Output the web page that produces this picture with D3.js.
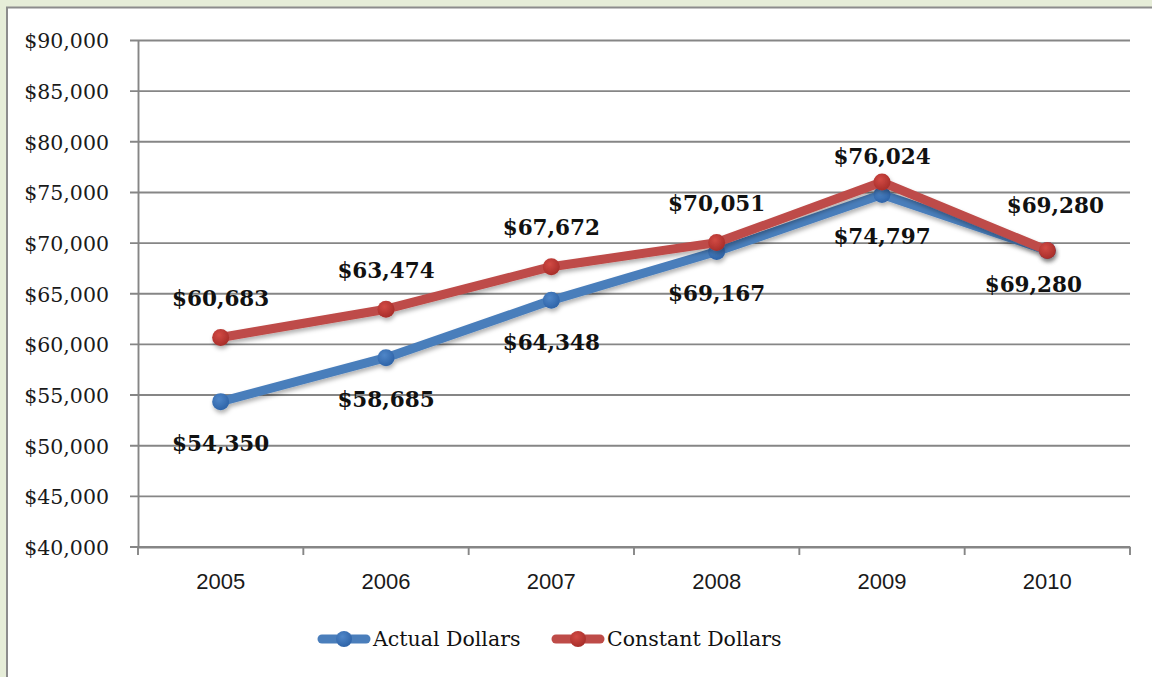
<!DOCTYPE html>
<html><head><meta charset="utf-8">
<script src="https://cdn.jsdelivr.net/npm/d3@7"></script>
<style>
html,body{margin:0;padding:0;background:#e6edd8;}
svg{display:block;}
</style></head>
<body>
<svg id="chart" width="1152" height="677"></svg>
<script>
const years = ["2005","2006","2007","2008","2009","2010"];
const actualDollars = [54350, 58685, 64348, 69167, 74797, 69280];
const constantDollars = [60683, 63474, 67672, 70051, 76024, 69280];
const yTicks = [40000,45000,50000,55000,60000,65000,70000,75000,80000,85000,90000];
const seriesNames = ["Actual Dollars","Constant Dollars"];

// label nudges (layout only)
const actualNudge = [[0,0],[0,0],[0,0],[0,0],[0,0],[-14,-8]];
const constantNudge = [[0,0],[0,0],[0,0],[0,0],[0,13],[8,-6]];

(function(){
const svg = d3.select("#chart");
svg.append("rect").attr("x",0).attr("y",0).attr("width",1152).attr("height",677).attr("fill","#e6edd8");
svg.append("rect").attr("x",7).attr("y",7.5).attr("width",1160).attr("height",690)
  .attr("fill","#ffffff").attr("stroke","#8c8c8c").attr("stroke-width",2);

const defs = svg.append("defs");
const f = defs.append("filter").attr("id","sh").attr("x","-10%").attr("y","-20%").attr("width","120%").attr("height","160%");
f.append("feDropShadow").attr("dx",1).attr("dy",3).attr("stdDeviation",2).attr("flood-color","#000").attr("flood-opacity",0.3);
function grad(id, c1, c2){
  const g = defs.append("radialGradient").attr("id",id).attr("cx","40%").attr("cy","35%").attr("r","65%");
  g.append("stop").attr("offset","0%").attr("stop-color",c1);
  g.append("stop").attr("offset","100%").attr("stop-color",c2);
}
grad("gb","#4f86c8","#2f64a8");
grad("gr","#d24a44","#a82e2a");

const pLeft = 138, pRight = 1130, pTop = 40.5, pBottom = 547;
const x = d3.scaleBand().domain(years).range([pLeft,pRight]);
const y = d3.scaleLinear().domain([40000,90000]).range([pBottom,pTop]);

svg.append("g").selectAll("line").data(yTicks).join("line")
  .attr("x1",130).attr("x2",pRight).attr("y1",d=>y(d)).attr("y2",d=>y(d))
  .attr("stroke","#868686").attr("stroke-width",1.9);

const yAxis = svg.append("g").attr("transform",`translate(${pLeft},0)`)
  .call(d3.axisLeft(y).tickValues(yTicks).tickSize(0).tickPadding(29)
    .tickFormat(d=>"$"+d3.format(",")(d)));
yAxis.select(".domain").attr("stroke","#868686").attr("stroke-width",1.9);
yAxis.selectAll("text").attr("font-family","'DejaVu Serif', serif").attr("font-size","20.5px")
  .attr("fill","#1a1a1a").attr("dy","0.36em");

const xAxis = svg.append("g").attr("transform",`translate(0,${pBottom})`)
  .call(d3.axisBottom(x).tickSize(0).tickPadding(0));
xAxis.select(".domain").attr("stroke","#868686").attr("stroke-width",1.9);
xAxis.selectAll("text").attr("font-family","'Liberation Sans', Arial, sans-serif").attr("font-size","22px")
  .attr("fill","#1a1a1a").attr("dy","0").attr("y",42);
const bounds = years.map(d=>x(d)).concat([x(years[years.length-1])+x.bandwidth()]);
svg.append("g").selectAll("line").data(bounds).join("line")
  .attr("x1",d=>d).attr("x2",d=>d).attr("y1",pBottom).attr("y2",pBottom+8)
  .attr("stroke","#868686").attr("stroke-width",1.9);

const cx = d => x(d)+x.bandwidth()/2;
const line = d3.line().x(d=>cx(d.year)).y(d=>y(d.value));

function series(vals, color, gradId){
  const data = years.map((yr,i)=>({year:yr,value:vals[i]}));
  const g = svg.append("g").attr("filter","url(#sh)");
  g.append("path").datum(data).attr("d",line).attr("fill","none")
    .attr("stroke",color).attr("stroke-width",9).attr("stroke-linejoin","round").attr("stroke-linecap","round");
  g.selectAll("circle").data(data).join("circle")
    .attr("cx",d=>cx(d.year)).attr("cy",d=>y(d.value)).attr("r",8.5).attr("fill",`url(#${gradId})`);
  return data;
}
const aData = series(actualDollars,"#4a7ebb","gb");
const cData = series(constantDollars,"#be4b48","gr");

const fmt = d=>"$"+d3.format(",")(d);
function labels(data, dyCenter, nudge){
  svg.append("g").selectAll("text").data(data).join("text")
    .attr("x",(d,i)=>cx(d.year)+nudge[i][0])
    .attr("y",(d,i)=>y(d.value)+dyCenter+nudge[i][1])
    .attr("dy","0.36em")
    .attr("text-anchor","middle")
    .attr("font-family","'DejaVu Serif', serif").attr("font-weight","bold").attr("font-size","21.5px")
    .attr("fill","#111")
    .text(d=>fmt(d.value));
}
labels(aData, 42, actualNudge);
labels(cData, -39, constantNudge);

const legend = [
  {name:seriesNames[0], color:"#4a7ebb", grad:"gb", x:318},
  {name:seriesNames[1], color:"#be4b48", grad:"gr", x:552}
];
const lg = svg.append("g").selectAll("g").data(legend).join("g")
  .attr("transform",d=>`translate(${d.x},639)`);
lg.append("line").attr("x1",4).attr("x2",48).attr("y1",0).attr("y2",0)
  .attr("stroke",d=>d.color).attr("stroke-width",9).attr("stroke-linecap","round");
lg.append("circle").attr("cx",26).attr("cy",0).attr("r",8).attr("fill",d=>`url(#${d.grad})`);
lg.append("text").attr("x",55).attr("y",0).attr("dy","0.36em")
  .attr("font-family","'DejaVu Serif', serif").attr("font-size","20.5px").attr("fill","#111")
  .text(d=>d.name);
})();
</script>
</body></html>
